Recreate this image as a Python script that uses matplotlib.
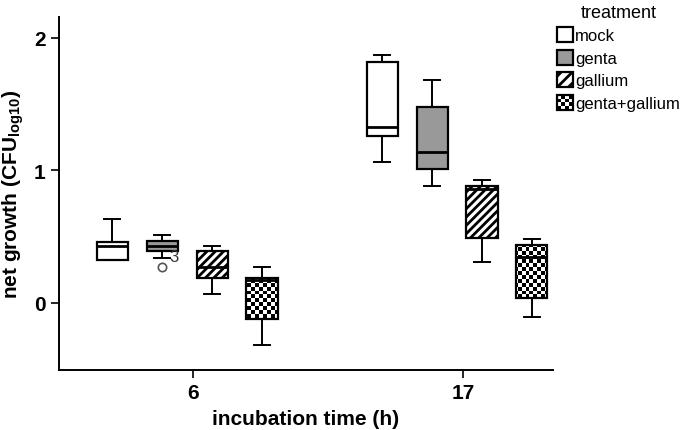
"""
Net growth box plot by treatment and incubation time.
"""
import numpy as np
import matplotlib
matplotlib.use("Agg")
import matplotlib.pyplot as plt
from matplotlib.patches import Patch, Rectangle
from matplotlib.legend_handler import HandlerBase

plt.rcParams['font.family'] = ['Liberation Sans', 'DejaVu Sans']
plt.rcParams['mathtext.default'] = 'regular'
plt.rcParams['hatch.linewidth'] = 2.0

times = ['6', '17']
treatments = ['mock', 'genta', 'gallium', 'genta+gallium']

# box statistics per treatment, one value per time point (6 h, 17 h)
mock_whislo = [0.32, 1.06]
mock_q1 = [0.32, 1.26]
mock_med = [0.43, 1.33]
mock_q3 = [0.46, 1.82]
mock_whishi = [0.63, 1.87]

genta_whislo = [0.34, 0.88]
genta_q1 = [0.39, 1.01]
genta_med = [0.43, 1.14]
genta_q3 = [0.47, 1.48]
genta_whishi = [0.51, 1.68]
genta_fliers = [[0.27], []]
genta_flier_ids = [['3'], []]

gallium_whislo = [0.07, 0.31]
gallium_q1 = [0.19, 0.49]
gallium_med = [0.27, 0.86]
gallium_q3 = [0.39, 0.88]
gallium_whishi = [0.43, 0.93]

combo_whislo = [-0.32, -0.11]
combo_q1 = [-0.12, 0.035]
combo_med = [0.17, 0.35]
combo_q3 = [0.19, 0.44]
combo_whishi = [0.27, 0.48]

series = [
    (mock_whislo, mock_q1, mock_med, mock_q3, mock_whishi, [[], []]),
    (genta_whislo, genta_q1, genta_med, genta_q3, genta_whishi, genta_fliers),
    (gallium_whislo, gallium_q1, gallium_med, gallium_q3, gallium_whishi, [[], []]),
    (combo_whislo, combo_q1, combo_med, combo_q3, combo_whishi, [[], []]),
]

offsets = [-0.30, -0.115, 0.07, 0.255]
box_w = 0.115
faces = ['white', '#999999', 'white', 'none']
hatches = [None, None, '////', None]

fig = plt.figure(figsize=(6.8, 4.31), dpi=100)
ax = fig.add_axes([59 / 680, 1 - 370.5 / 431, 494 / 680, 352.5 / 431])
ax.set_xlim(-0.497, 1.333)
ax.set_ylim(-0.503, 2.158)

checker_boxes = []
for k, (lo, q1, med, q3, hi, fl) in enumerate(series):
    stats = []
    for t in range(len(times)):
        stats.append(dict(whislo=lo[t], q1=q1[t], med=med[t], q3=q3[t],
                          whishi=hi[t], fliers=fl[t]))
    pos = [t + offsets[k] for t in range(len(times))]
    res = ax.bxp(stats, positions=pos, widths=box_w, capwidths=box_w * 0.5,
                 patch_artist=True, manage_ticks=False,
                 boxprops=dict(facecolor=faces[k], edgecolor='black', linewidth=1.6),
                 whiskerprops=dict(color='black', linewidth=1.4),
                 capprops=dict(color='black', linewidth=1.4),
                 medianprops=dict(color='black', linewidth=2.0),
                 flierprops=dict(marker='o', markersize=6, markerfacecolor='white',
                                 markeredgecolor='#555555', markeredgewidth=1.2))
    for b in res['boxes']:
        if hatches[k]:
            b.set_hatch(hatches[k])
        if k == 3:
            checker_boxes.append(b)
    if k == 1:
        for t in range(len(times)):
            for v, lab in zip(genta_fliers[t], genta_flier_ids[t]):
                ax.annotate(lab, (pos[t], v), xytext=(5, 2), textcoords='offset points',
                            fontsize=12, color='#333333', va='bottom')

# checkerboard fill clipped to the genta+gallium boxes
bb = ax.get_window_extent()
cell = 3.9
nr, nc = int(bb.height / cell), int(bb.width / cell)
board = (np.add.outer(np.arange(nr), np.arange(nc)) % 2).astype(float)
for b in checker_boxes:
    im = ax.imshow(board, cmap='gray', extent=(*ax.get_xlim(), *ax.get_ylim()),
                   aspect='auto', interpolation='nearest', zorder=1.9)
    im.set_clip_path(b)
ax.set_xlim(-0.497, 1.333)
ax.set_ylim(-0.503, 2.158)

ax.spines['top'].set_visible(False)
ax.spines['right'].set_visible(False)
for s in ['left', 'bottom']:
    ax.spines[s].set_linewidth(1.4)
ax.set_xticks(range(len(times)))
ax.set_xticklabels(times)
ax.set_yticks([0, 1, 2])
ax.tick_params(labelsize=15, width=1.2, length=6)
for lab in ax.get_xticklabels() + ax.get_yticklabels():
    lab.set_fontweight('bold')
ax.set_xlabel('incubation time (h)', fontsize=15, fontweight='bold', labelpad=5)
ax.set_ylabel('net growth (CFU$_{log10}$)', fontsize=15, fontweight='bold', labelpad=6)


class CheckerHandler(HandlerBase):
    def create_artists(self, legend, orig_handle, xdescent, ydescent,
                       width, height, fontsize, trans):
        x0, y0 = -xdescent, -ydescent
        arts = [Rectangle((x0, y0), width, height, facecolor='white',
                          edgecolor='none', transform=trans)]
        n = 4
        for i in range(n):
            for j in range(n):
                if (i + j) % 2 == 0:
                    arts.append(Rectangle((x0 + i * width / n, y0 + j * height / n),
                                          width / n, height / n, facecolor='black',
                                          edgecolor='none', transform=trans))
        arts.append(Rectangle((x0, y0), width, height, fill=False,
                              edgecolor='black', linewidth=1.6, transform=trans))
        return arts


checker_handle = Patch(facecolor='white', edgecolor='black')
handles = [Patch(facecolor='white', edgecolor='black', linewidth=1.6),
           Patch(facecolor='#999999', edgecolor='black', linewidth=1.6),
           Patch(facecolor='white', edgecolor='black', hatch='///', linewidth=1.6),
           checker_handle]
leg = fig.legend(handles, treatments, title='treatment', loc='upper left',
                 bbox_to_anchor=(550 / 680, 1.004), frameon=False, fontsize=12,
                 title_fontsize=13, handlelength=0.95, handleheight=1.0,
                 handletextpad=0.15, labelspacing=0.38, borderaxespad=0.0,
                 handler_map={checker_handle: CheckerHandler()})

fig.savefig('out.png', dpi=100)
